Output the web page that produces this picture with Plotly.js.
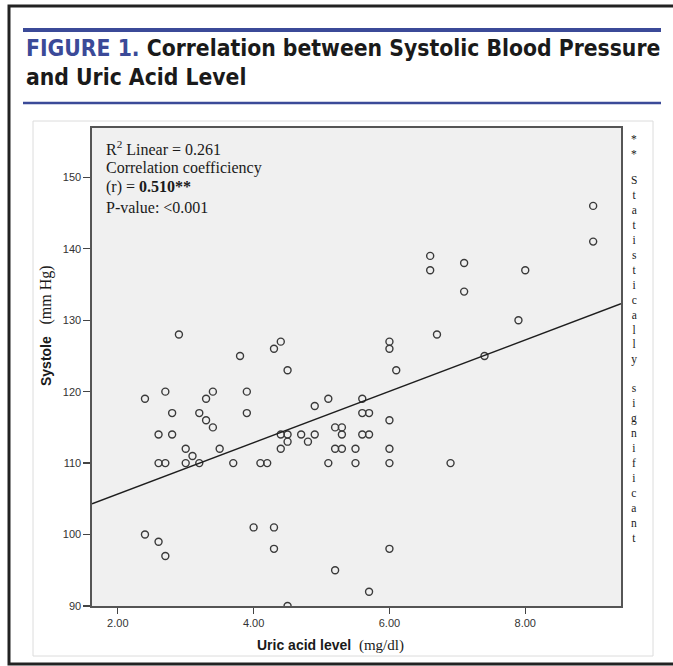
<!DOCTYPE html>
<html>
<head>
<meta charset="utf-8">
<script src="https://cdn.plot.ly/plotly-3.0.1.min.js"></script>
<style>
  html, body { margin: 0; padding: 0; background: #ffffff; }
  #chart { width: 673px; height: 666px; }
</style>
</head>
<body>
<div id="chart"></div>
<script>
// ---- data ----
const uricAcid = [2.4, 2.9, 2.7, 2.8, 2.6, 2.8, 2.6, 2.7, 3.0, 3.1, 3.0, 3.2, 3.2, 3.3, 3.4, 3.3, 3.4, 3.5, 3.7, 3.8,
                  3.9, 3.9, 4.1, 4.2, 4.3, 4.4, 4.5, 4.4, 4.5, 4.5, 4.4, 2.4, 2.6, 2.7, 4.0, 4.3, 4.3, 4.5, 6.0, 6.0,
                  6.7, 6.1, 5.1, 4.9, 5.6, 5.6, 5.7, 6.0, 5.2, 5.3, 4.7, 4.9, 5.3, 5.6, 5.7, 4.8, 5.2, 5.3, 5.5, 6.0,
                  5.1, 5.5, 6.0, 6.0, 5.2, 5.7, 9.0, 9.0, 6.6, 6.6, 7.1, 7.1, 8.0, 7.9, 7.4, 6.9];
const systole  = [119, 128, 120, 117, 114, 114, 110, 110, 112, 111, 110, 110, 117, 116, 115, 119, 120, 112, 110, 125,
                  120, 117, 110, 110, 126, 127, 123, 114, 114, 113, 112, 100, 99, 97, 101, 101, 98, 90, 127, 126,
                  128, 123, 119, 118, 119, 117, 117, 116, 115, 115, 114, 114, 114, 114, 114, 113, 112, 112, 112, 112,
                  110, 110, 110, 98, 95, 92, 146, 141, 139, 137, 138, 134, 137, 130, 125, 110];
const fitX = [1.62, 9.41];
const fitY = [104.3, 132.3];
const xTicks = [2, 4, 6, 8];
const yTicks = [90, 100, 110, 120, 130, 140, 150];
const statLines = ["R<sup>2</sup> Linear = 0.261", "Correlation coefficiency", "(r) = <b>0.510**</b>", "P-value: <0.001"];
const sigWord1 = "Statistically";
const sigWord2 = "significant";

// ---- pixel helpers (plot area: l=92, r=621, t=128, b=606) ----
const L = 92, R = 621, T = 128, B = 606;
const PX = p => (p - L) / (R - L);
const PY = p => (B - p) / (B - T);

const serif = "'Liberation Serif', 'Times New Roman', serif";
const sans = "'Liberation Sans', Arial, sans-serif";
const titleFont = "'DejaVu Sans Condensed', 'DejaVu Sans', sans-serif";
const blue = "#3b4a98";

const traces = [
  {
    x: uricAcid, y: systole, type: 'scatter', mode: 'markers',
    marker: { symbol: 'circle-open', size: 7, color: '#3a3a3a', line: { width: 1.4, color: '#3a3a3a' } },
    hoverinfo: 'x+y', showlegend: false
  },
  {
    x: fitX, y: fitY, type: 'scatter', mode: 'lines',
    line: { color: '#1e1e1e', width: 1.5 }, showlegend: false, hoverinfo: 'skip'
  }
];

const shapes = [
  { type: 'rect', xref: 'paper', yref: 'paper', x0: PX(9), x1: PX(690), y0: PY(6), y1: PY(664),
    line: { color: '#222', width: 3 }, fillcolor: 'rgba(0,0,0,0)', layer: 'below' },
  { type: 'line', xref: 'paper', yref: 'paper', x0: PX(23), x1: PX(661), y0: PY(30), y1: PY(30),
    line: { color: blue, width: 4 } },
  { type: 'line', xref: 'paper', yref: 'paper', x0: PX(23), x1: PX(661), y0: PY(103), y1: PY(103),
    line: { color: blue, width: 2.5 } },
  { type: 'rect', xref: 'paper', yref: 'paper', x0: PX(33), x1: PX(653), y0: PY(121), y1: PY(656),
    line: { color: '#dcdcdc', width: 1 }, fillcolor: 'rgba(0,0,0,0)', layer: 'below' }
];

const annotations = [];
annotations.push({ xref: 'paper', yref: 'paper', x: PX(24), y: PY(48), xanchor: 'left', yanchor: 'middle',
  showarrow: false, align: 'left',
  text: "<span style='color:" + blue + "'>FIGURE 1.</span> Correlation between Systolic Blood Pressure",
  font: { family: titleFont, size: 22.7, color: '#1a1a1a', weight: 'bold' } });
annotations.push({ xref: 'paper', yref: 'paper', x: PX(24), y: PY(77), xanchor: 'left', yanchor: 'middle',
  showarrow: false, align: 'left', text: "and Uric Acid Level",
  font: { family: titleFont, size: 22.7, color: '#1a1a1a', weight: 'bold' } });
const statY = [148, 168, 187, 207];
statLines.forEach((t, i) => {
  annotations.push({ xref: 'paper', yref: 'paper', x: PX(104), y: PY(statY[i]), xanchor: 'left', yanchor: 'middle',
    showarrow: false, text: t, font: { family: serif, size: 16, color: '#1a1a1a' } });
});
annotations.push({ xref: 'paper', yref: 'paper', x: PX(46), y: PY(326), xanchor: 'center', yanchor: 'middle',
  showarrow: false, textangle: -90,
  text: "<b>Systole</b>   <span style=\"font-family:'Liberation Serif',serif;font-size:16px\">(mm Hg)</span>",
  font: { family: sans, size: 14, color: '#1a1a1a' } });
annotations.push({ xref: 'paper', yref: 'paper', x: PX(330), y: PY(645), xanchor: 'center', yanchor: 'middle',
  showarrow: false,
  text: "<b>Uric acid level</b>  <span style=\"font-family:'Liberation Serif',serif;font-size:15px\">(mg/dl)</span>",
  font: { family: sans, size: 14, color: '#1a1a1a' } });
annotations.push({ xref: 'paper', yref: 'paper', x: PX(634), y: PY(131), xanchor: 'center', yanchor: 'top',
  showarrow: false, text: "*<br>*", font: { family: serif, size: 11.5, color: '#1a1a1a' } });
annotations.push({ xref: 'paper', yref: 'paper', x: PX(634), y: PY(172), xanchor: 'center', yanchor: 'top',
  showarrow: false, text: sigWord1.split('').join('<br>'),
  font: { family: serif, size: 11.5, color: '#1a1a1a' } });
annotations.push({ xref: 'paper', yref: 'paper', x: PX(634), y: PY(380), xanchor: 'center', yanchor: 'top',
  showarrow: false, text: sigWord2.split('').join('<br>'),
  font: { family: serif, size: 11.5, color: '#1a1a1a' } });

const layout = {
  width: 673, height: 666, autosize: false,
  margin: { l: L, r: 673 - R, t: T, b: 666 - B, pad: 0 },
  paper_bgcolor: '#ffffff', plot_bgcolor: '#f0f0f0',
  showlegend: false,
  xaxis: {
    range: [1.62, 9.41], tickvals: xTicks, tickformat: '.2f', ticks: 'outside', ticklen: 6, tickwidth: 1.3,
    tickcolor: '#444', showline: true, linecolor: '#555', linewidth: 1.6, mirror: true,
    showgrid: false, zeroline: false, tickfont: { family: sans, size: 11, color: '#333' }
  },
  yaxis: {
    range: [90, 156.9], tickvals: yTicks, ticks: 'outside', ticklen: 7, tickwidth: 1.3,
    tickcolor: '#444', showline: true, linecolor: '#555', linewidth: 1.6, mirror: true,
    showgrid: false, zeroline: false, ticklabelstandoff: 0,
    tickfont: { family: sans, size: 11, color: '#333' }
  },
  shapes: shapes,
  annotations: annotations
};

Plotly.newPlot('chart', traces, layout, { displayModeBar: false, staticPlot: true });
</script>
</body>
</html>
